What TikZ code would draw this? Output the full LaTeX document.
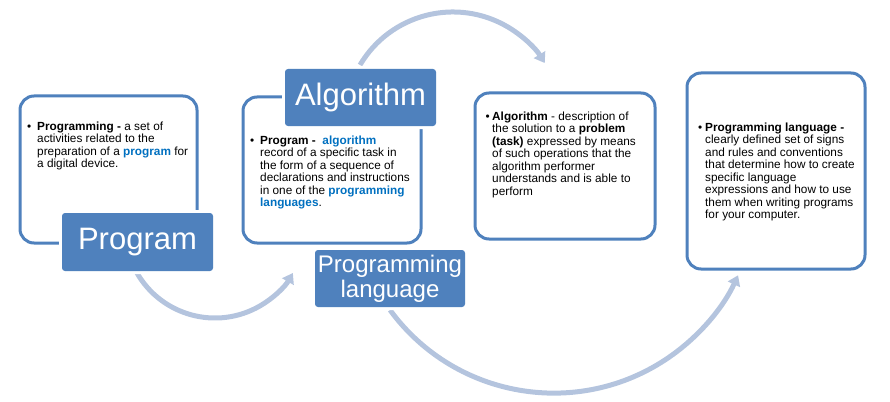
\documentclass[tikz,border=0pt]{standalone}
\usepackage{fontspec}
\setmainfont{Liberation Sans}
\usetikzlibrary{arrows.meta}
\definecolor{frame}{HTML}{4F81BD}
\definecolor{hl}{HTML}{0070C0}
\definecolor{flowc}{RGB}{180,196,222}
\tikzset{
  box/.style={draw=frame, line width=3pt, fill=white, rounded corners=14pt, inner sep=0pt},
  tag/.style={fill=frame, rounded corners=3pt, text=white, inner sep=0pt, align=center,
     preaction={draw=white, line width=6pt}},
  body/.style={anchor=north west, inner sep=0pt, align=left,
     font=\fontsize{11.8}{12.5}\selectfont},
  flow/.style={draw=flowc, line width=5pt, -{Triangle[width=13pt,length=10pt]}},
}
\begin{document}
\begin{tikzpicture}[x=1pt,y=-1pt]
\useasboundingbox (0,0) rectangle (890,401);
% arrows
\coordinate (a1s) at (137,273);
\coordinate (a2s) at (360,65);
\coordinate (a3s) at (390,310);
\draw[flow] (a1s) arc[start angle=150, end angle=30, radius=90];
\draw[flow] (a2s) arc[start angle=210.6, end angle=328.2, radius=108];
\draw[flow] (a3s) arc[start angle=143.8, end angle=24.8, radius=203];
% boxes
\node[box, minimum width=177pt, minimum height=147pt] (b1) at (108.5,169.5) {};
\node[box, minimum width=178pt, minimum height=146pt] (b2) at (332,170) {};
\node[box, minimum width=180pt, minimum height=146pt] (b3) at (565,166) {};
\node[box, minimum width=178pt, minimum height=196pt] (b4) at (776,171) {};
% texts
\node[body] (t1) at (37,121.5) {\llap{•\hspace{6pt}}\textbf{Programming -} a set of\\activities related to the\\preparation of a \textcolor{hl}{\textbf{program}} for\\a digital device.};
\node[body] (t2) at (260,135.5) {\llap{•\hspace{6pt}}\textbf{Program -}\ \ \textcolor{hl}{\textbf{algorithm}}\\record of a specific task in\\the form of a sequence of\\declarations and instructions\\in one of the \textcolor{hl}{\textbf{programming}}\\\textcolor{hl}{\textbf{languages}}.};
\node[body] (t3) at (492,111.5) {\llap{•\hspace{2.5pt}}\textbf{Algorithm} - description of\\the solution to a \textbf{problem}\\\textbf{(task)} expressed by means\\of such operations that the\\algorithm performer\\understands and is able to\\perform};
\node[body] (t4) at (705,122.5) {\llap{•\hspace{3pt}}\textbf{Programming language -}\\clearly defined set of signs\\and rules and conventions\\that determine how to create\\specific language\\expressions and how to use\\them when writing programs\\for your computer.};
% labels
\node[tag, minimum width=151pt, minimum height=58pt, font=\fontsize{31}{33}\selectfont] (l1) at (137.5,242) {Program};
\node[tag, minimum width=151pt, minimum height=57pt, font=\fontsize{31}{33}\selectfont] (l2) at (360.5,97.5) {Algorithm};
\node[tag, minimum width=150pt, minimum height=57pt, font=\fontsize{24}{25}\selectfont] (l3) at (390,278.5) {Programming\\language};
\end{tikzpicture}
\end{document}
